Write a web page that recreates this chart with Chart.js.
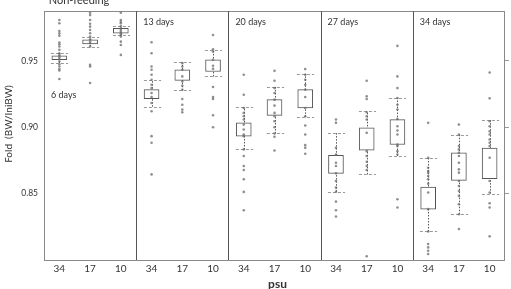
<!DOCTYPE html>
<html><head><meta charset="utf-8">
<script src="https://cdn.jsdelivr.net/npm/chart.js@4/dist/chart.umd.min.js"></script>
<style>html,body{margin:0;padding:0;background:#fff}#wrap{width:511px;height:289px}</style>
</head><body><div id="wrap"><canvas id="c" width="511" height="289"></canvas></div>
<script>
const DAYS = ['6 days', '13 days', '20 days', '27 days', '34 days'];
const PSU = ['34', '17', '10'];
const Y_TICKS = [0.85, 0.90, 0.95];
const TITLE = 'Non-feeding';
const Y_TITLE = 'Fold  (BW/IniBW)';
const X_TITLE = 'psu';

// box (25th–75th) and whisker ends per group, 5 days x 3 psu
const BOX_LOW   = [0.9510, 0.9628, 0.9708, 0.9215, 0.9353, 0.9420, 0.8933, 0.9090, 0.9145, 0.8653, 0.8828, 0.8870, 0.8383, 0.8600, 0.8613];
const BOX_HIGH  = [0.9538, 0.9658, 0.9745, 0.9283, 0.9433, 0.9508, 0.9033, 0.9208, 0.9283, 0.8788, 0.8995, 0.9058, 0.8550, 0.8808, 0.8843];
const WHISK_LOW = [0.9483, 0.9608, 0.9695, 0.9155, 0.9278, 0.9383, 0.8833, 0.8953, 0.9078, 0.8515, 0.8645, 0.8783, 0.8215, 0.8345, 0.8500];
const WHISK_HIGH= [0.9558, 0.9678, 0.9763, 0.9358, 0.9488, 0.9583, 0.9153, 0.9303, 0.9403, 0.8958, 0.9120, 0.9220, 0.8770, 0.8945, 0.9053];

// individual fish values, per day: [psu34, psu17, psu10]
const PTS_6D = [
  [0.9808, 0.9783, 0.9725, 0.9708, 0.9690, 0.9638, 0.9625, 0.9608, 0.9583, 0.9558, 0.9543, 0.9528, 0.9513, 0.9495, 0.9475, 0.9458, 0.9438, 0.9428, 0.9363],
  [0.9863, 0.9845, 0.9808, 0.9780, 0.9758, 0.9733, 0.9708, 0.9683, 0.9663, 0.9645, 0.9633, 0.9608, 0.9470, 0.9458, 0.9333],
  [0.9863, 0.9808, 0.9795, 0.9783, 0.9763, 0.9745, 0.9733, 0.9720, 0.9708, 0.9695, 0.9683, 0.9645, 0.9620, 0.9545]
];
const PTS_13D = [
  [0.9640, 0.9558, 0.9458, 0.9433, 0.9395, 0.9358, 0.9320, 0.9295, 0.9258, 0.9228, 0.9183, 0.9120, 0.8933, 0.8883, 0.8645],
  [0.9483, 0.9458, 0.9433, 0.9383, 0.9345, 0.9313, 0.9283, 0.9213, 0.9170, 0.9133, 0.9113],
  [0.9695, 0.9588, 0.9570, 0.9508, 0.9463, 0.9440, 0.9303, 0.9228, 0.9213, 0.9090, 0.9000]
];
const PTS_20D = [
  [0.9395, 0.9245, 0.9145, 0.9108, 0.9083, 0.9058, 0.9020, 0.8983, 0.8945, 0.8933, 0.8833, 0.8783, 0.8708, 0.8678, 0.8608, 0.8513, 0.8375],
  [0.9425, 0.9350, 0.9295, 0.9258, 0.9208, 0.9163, 0.9108, 0.9083, 0.9045, 0.9000, 0.8953, 0.8928, 0.8825],
  [0.9438, 0.9395, 0.9358, 0.9320, 0.9283, 0.9228, 0.9145, 0.9083, 0.9013, 0.8945, 0.8865, 0.8845, 0.8800]
];
const PTS_27D = [
  [0.9058, 0.9033, 0.8845, 0.8795, 0.8733, 0.8708, 0.8653, 0.8595, 0.8545, 0.8515, 0.8440, 0.8375, 0.8328],
  [0.9350, 0.9233, 0.9213, 0.9113, 0.9083, 0.9058, 0.8958, 0.8820, 0.8783, 0.8740, 0.8708, 0.8678, 0.8028],
  [0.9613, 0.9383, 0.9295, 0.9220, 0.9170, 0.9133, 0.9063, 0.9008, 0.8975, 0.8945, 0.8870, 0.8858, 0.8820, 0.8795, 0.8458, 0.8395]
];
const PTS_34D = [
  [0.9033, 0.8770, 0.8695, 0.8670, 0.8658, 0.8633, 0.8608, 0.8575, 0.8508, 0.8383, 0.8215, 0.8120, 0.8095, 0.8070, 0.8045],
  [0.9020, 0.8945, 0.8858, 0.8833, 0.8808, 0.8783, 0.8733, 0.8683, 0.8658, 0.8595, 0.8558, 0.8520, 0.8483, 0.8420, 0.8345, 0.8233],
  [0.9413, 0.9218, 0.9045, 0.9008, 0.8970, 0.8945, 0.8908, 0.8883, 0.8858, 0.8770, 0.8595, 0.8508, 0.8428, 0.8395, 0.8178]
];

const ALL_PTS = [PTS_6D, PTS_13D, PTS_20D, PTS_27D, PTS_34D];
const labels = DAYS.flatMap(() => PSU);
const boxData = BOX_LOW.map((lo, i) => [lo, BOX_HIGH[i]]);
const pointData = [];
ALL_PTS.forEach((day, d) => day.forEach((arr, p) => arr.forEach(v => pointData.push({ x: d * 3 + p, y: v }))));

const FONT = 'Lato, "Open Sans", sans-serif';
const TXT = '#333';

const deco = {
  id: 'deco',
  beforeDatasetsDraw(chart) {
    const { ctx, chartArea: a, scales: { x, y } } = chart;
    ctx.save();
    ctx.strokeStyle = '#8a8a8a'; ctx.lineWidth = 1;
    ctx.strokeRect(Math.round(a.left) + 0.5, Math.round(a.top) + 0.5, Math.round(a.right - a.left) - 1, Math.round(a.bottom - a.top));
    ctx.strokeStyle = '#555';
    for (let d = 1; d < DAYS.length; d++) {
      const px = Math.round((x.getPixelForValue(d * 3 - 1) + x.getPixelForValue(d * 3)) / 2) + 0.5;
      ctx.beginPath(); ctx.moveTo(px, a.top); ctx.lineTo(px, a.bottom); ctx.stroke();
    }
    const cw = x.getPixelForValue(1) - x.getPixelForValue(0);
    const capHalf = cw * 0.28;
    for (let i = 0; i < labels.length; i++) {
      const cx = Math.round(x.getPixelForValue(i)) + 0.5;
      const yl = y.getPixelForValue(WHISK_LOW[i]);
      const yh = y.getPixelForValue(WHISK_HIGH[i]);
      ctx.strokeStyle = '#555'; ctx.setLineDash([1.5, 1.5]);
      ctx.beginPath(); ctx.moveTo(cx, yl); ctx.lineTo(cx, yh); ctx.stroke();
      ctx.strokeStyle = '#999'; ctx.setLineDash([3, 2]);
      [yl, yh].forEach(yy => {
        const ry = Math.round(yy) + 0.5;
        ctx.beginPath(); ctx.moveTo(cx - capHalf, ry); ctx.lineTo(cx + capHalf, ry); ctx.stroke();
      });
    }
    ctx.restore();
  },
  afterDraw(chart) {
    const { ctx, chartArea: a, scales: { x } } = chart;
    ctx.save();
    ctx.fillStyle = TXT;
    ctx.font = '9px ' + FONT;
    ctx.textBaseline = 'middle';
    ctx.textAlign = 'left';
    for (let d = 0; d < DAYS.length; d++) {
      const left = d === 0 ? a.left : (x.getPixelForValue(d * 3 - 1) + x.getPixelForValue(d * 3)) / 2;
      ctx.fillText(DAYS[d], left + 7, d === 0 ? a.top + 84 : a.top + 11);
    }
    ctx.font = '11px ' + FONT;
    ctx.textAlign = 'center'; ctx.textBaseline = 'alphabetic';
    ctx.fillText(TITLE, a.left + 35, a.top - 7);
    ctx.font = 'bold 12px ' + FONT;
    ctx.fillText(X_TITLE, (a.left + a.right) / 2 + 3, 288);
    ctx.font = '10px ' + FONT;
    ctx.translate(9, a.top + 113);
    ctx.rotate(-Math.PI / 2);
    ctx.textBaseline = 'middle';
    ctx.fillText(Y_TITLE, 0, 0);
    ctx.restore();
  }
};

new Chart(document.getElementById('c'), {
  type: 'bar',
  data: {
    labels,
    datasets: [
      { type: 'scatter', xAxisID: 'xp', data: pointData, pointRadius: 1.3, pointHoverRadius: 1.3, pointBorderWidth: 0,
        backgroundColor: 'rgba(105,105,105,0.75)', borderColor: 'rgba(105,105,105,0.75)', order: 0 },
      { type: 'bar', xAxisID: 'x', data: boxData, backgroundColor: '#fff', borderColor: '#555', borderWidth: 1,
        borderSkipped: false, barThickness: 15, grouped: false, order: 1 }
    ]
  },
  options: {
    responsive: false, animation: false,
    layout: { padding: { top: 11, right: 0, left: 0, bottom: 0 } },
    plugins: { legend: { display: false }, tooltip: { enabled: false }, title: { display: false } },
    scales: {
      x: {
        type: 'category', offset: true,
        grid: { display: false, drawTicks: false }, border: { display: false },
        ticks: { color: TXT, font: { family: FONT, size: 10 }, padding: 3, maxRotation: 0, autoSkip: false },
        afterFit(s) { s.height = 29; }
      },
      xp: {
        type: 'linear', axis: 'x', position: 'bottom', display: false, offset: false,
        grid: { offset: false }, bounds: 'ticks', beginAtZero: false,
        min: -0.5, max: labels.length - 0.5
      },
      y: {
        min: 0.80, max: 0.9875,
        afterBuildTicks(s) { s.ticks = Y_TICKS.map(v => ({ value: v })); },
        grid: { display: false, drawTicks: false }, border: { display: false },
        ticks: { color: TXT, font: { family: FONT, size: 8.5 }, padding: 6, callback: v => v.toFixed(2) },
        afterFit(s) { s.width = 44; }
      },
      y2: {
        position: 'right', min: 0.80, max: 0.9875,
        afterBuildTicks(s) { s.ticks = Y_TICKS.map(v => ({ value: v })); },
        grid: { drawOnChartArea: false, drawTicks: true, tickLength: 4, color: '#999' }, border: { display: false },
        ticks: { display: false },
        afterFit(s) { s.width = 6; }
      }
    }
  },
  plugins: [deco]
});
</script></body></html>
